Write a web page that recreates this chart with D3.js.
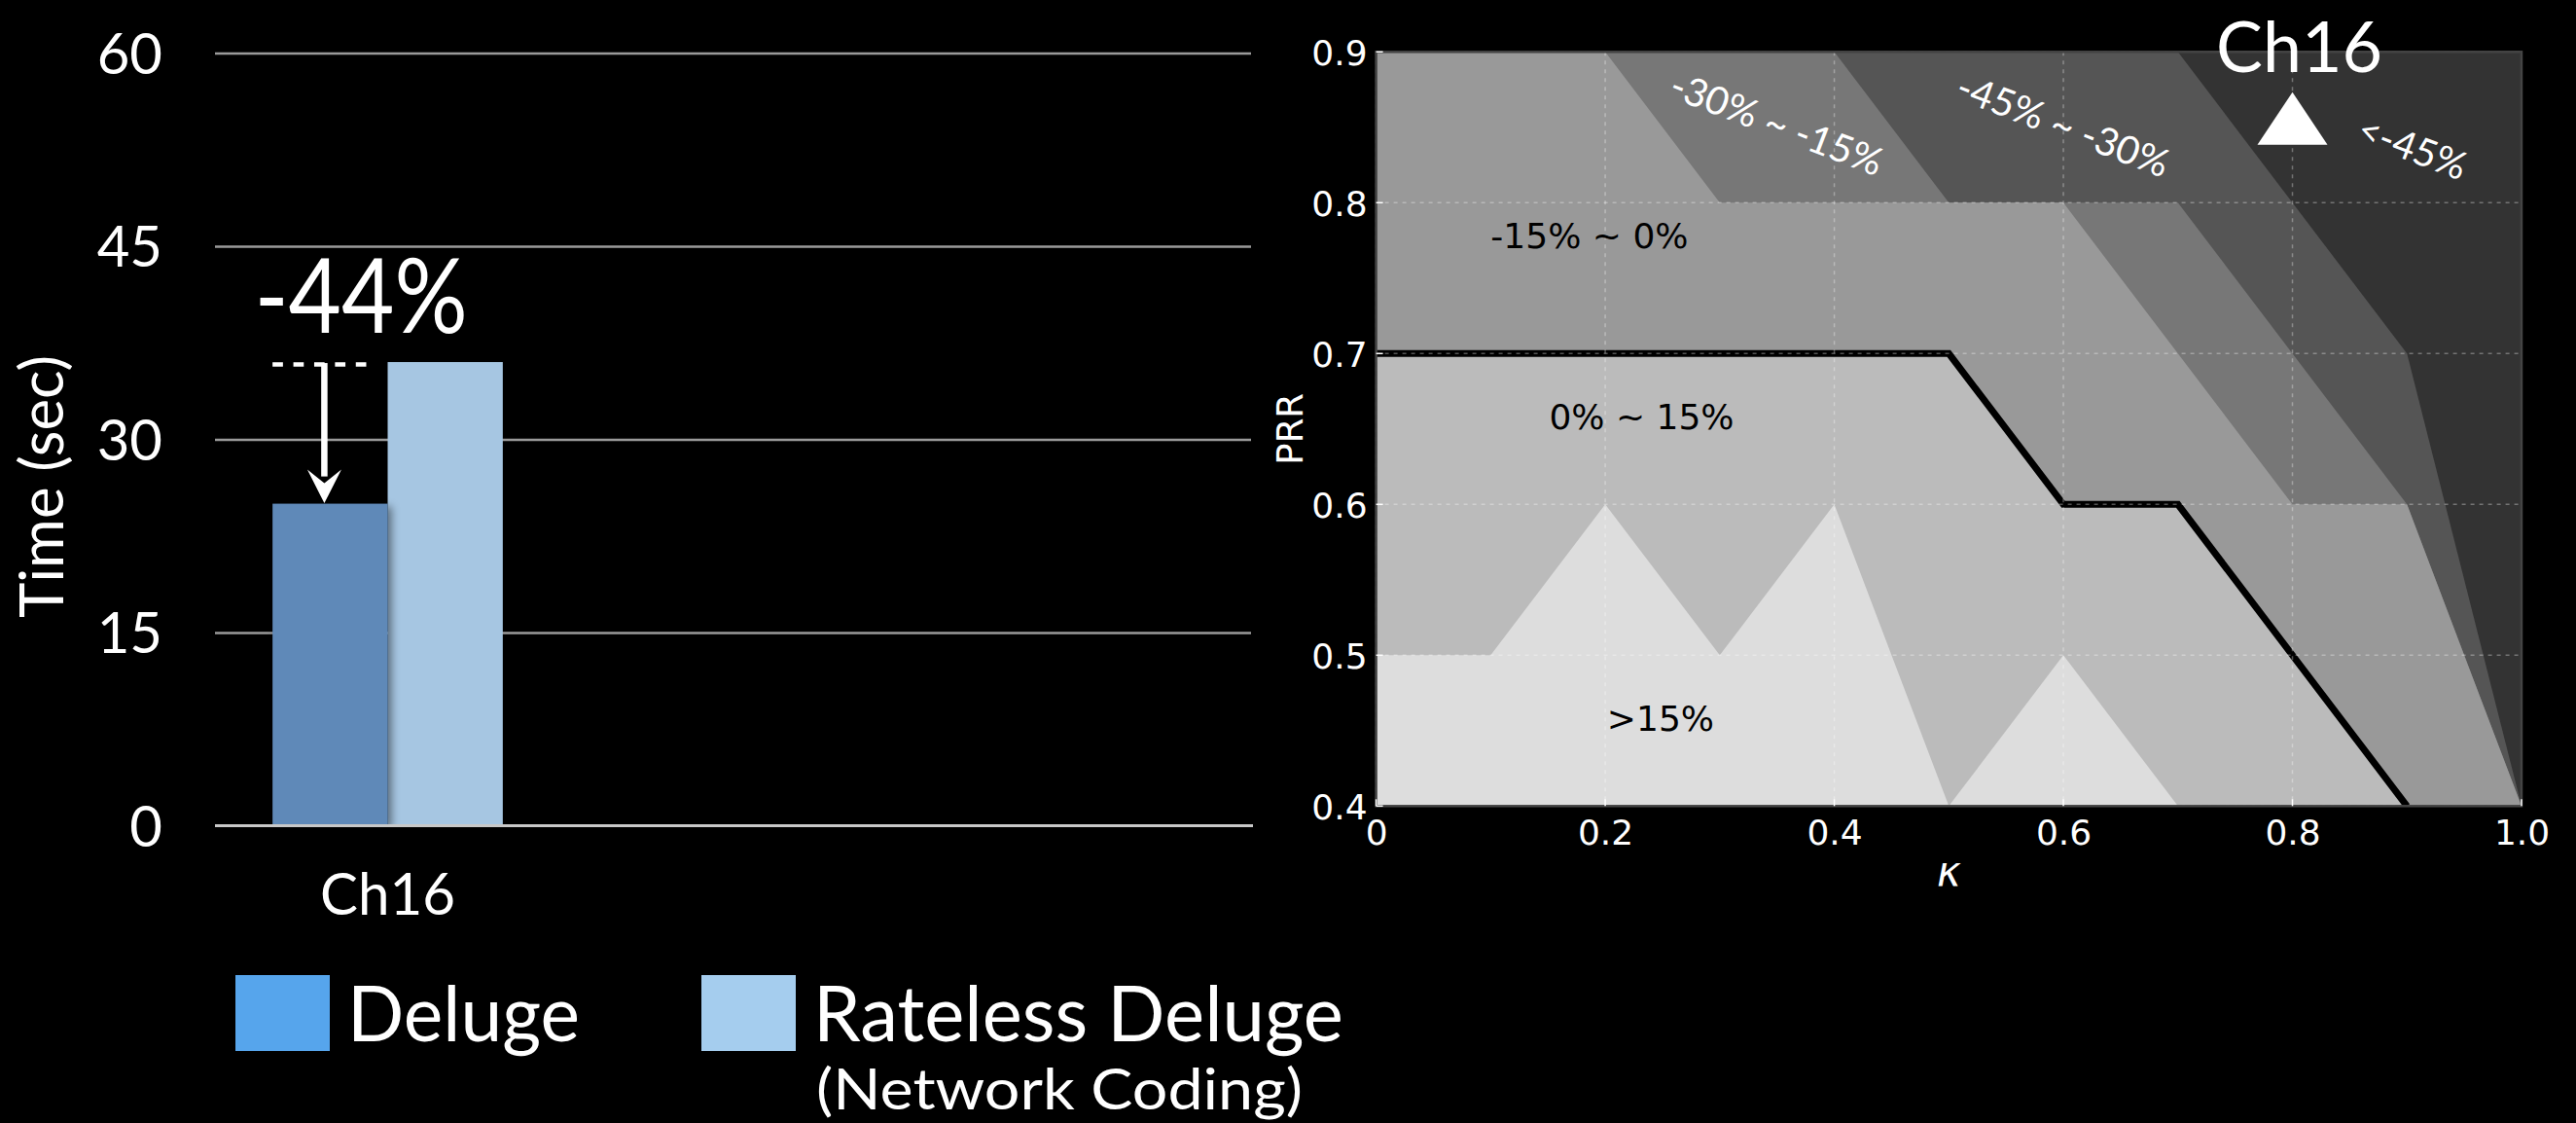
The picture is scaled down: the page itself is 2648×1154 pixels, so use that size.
<!DOCTYPE html>
<html>
<head>
<meta charset="utf-8">
<script src="https://cdn.jsdelivr.net/npm/d3@7"></script>
<style>
  html, body { margin: 0; padding: 0; background: #000; }
  svg { display: block; }
</style>
</head>
<body>
<svg id="chart" width="2648" height="1154"></svg>
<script>
// ---------------- completion time (bar chart) ----------------
const categories = ["Ch16"];
const seriesNames = ["Deluge", "Rateless Deluge"];
const seriesNotes = ["", "(Network Coding)"];
const timeValues = [[25, 36]];            // seconds, per category: Deluge, Rateless Deluge
const timeTicks = [0, 15, 30, 45, 60];

// ---------------- improvement map over (kappa, PRR) ----------------
const kappaTicks = [0, 0.2, 0.4, 0.6, 0.8, 1.0];
const prrTicks = [0.4, 0.5, 0.6, 0.7, 0.8, 0.9];
const bandNames = ["<-45%", "-45% ~ -30%", "-30% ~ -15%", "-15% ~ 0%", "0% ~ 15%", ">15%"];
// Outline of each band together with every lighter band, darkest first (kappa, PRR).
const bandOutlines = [
  [[[0, 0.4], [0, 0.9], [1.0, 0.9], [1.0, 0.4]]],
  [[[0, 0.4], [0, 0.9], [0.7, 0.9], [0.9, 0.7], [1.0, 0.4]]],
  [[[0, 0.4], [0, 0.9], [0.4, 0.9], [0.5, 0.8], [0.7, 0.8], [0.9, 0.6], [1.0, 0.4]]],
  [[[0, 0.4], [0, 0.9], [0.2, 0.9], [0.3, 0.8], [0.6, 0.8], [0.8, 0.6], [0.9, 0.6], [1.0, 0.4]]],
  [[[0, 0.4], [0, 0.7], [0.5, 0.7], [0.6, 0.6], [0.7, 0.6], [0.9, 0.4]]],
  [[[0, 0.4], [0, 0.5], [0.1, 0.5], [0.2, 0.6], [0.3, 0.5], [0.4, 0.6], [0.5, 0.4]],
   [[0.5, 0.4], [0.6, 0.5], [0.7, 0.4]]]
];
// Break-even (0%) contour
const zeroContour = [[0, 0.7], [0.5, 0.7], [0.6, 0.6], [0.7, 0.6], [0.9, 0.4]];
// Operating point of the Ch16 experiment
const channelPoint = { name: "Ch16", kappa: 0.8, prr: 0.85 };

// ---------------- styles ----------------
const barColors = ["#5e89b8", "#a6c6e2"];
const legendColors = ["#56a5ec", "#a5cdee"];
const bandGrays = ["#333333", "#555555", "#777777", "#999999", "#bbbbbb", "#dddddd"];
const gillLike = "Lato, 'Open Sans', sans-serif";
const mplFont = "'DejaVu Sans', sans-serif";

const svg = d3.select("#chart");
const defs = svg.append("defs");
defs.append("filter").attr("id", "barShadow")
  .attr("x", "-20%").attr("y", "-20%").attr("width", "150%").attr("height", "150%")
  .append("feDropShadow")
  .attr("dx", 4).attr("dy", 3).attr("stdDeviation", 4)
  .attr("flood-color", "#000").attr("flood-opacity", 0.45);

// ================= left panel =================
const L = { left: 221, right: 1286, top: 54.5, bottom: 848.4 };
const categorySlots = 3;
const yTime = d3.scaleLinear().domain([0, 60]).range([L.bottom, L.top]);
const x0 = d3.scaleBand().domain(d3.range(categorySlots)).range([L.left, L.right]);
const x1 = d3.scaleBand().domain(seriesNames).range([0, x0.bandwidth()]).paddingOuter(0.5);

// horizontal grid (baseline drawn later, above the bars)
const gridL = svg.append("g")
  .attr("transform", `translate(${L.left},0)`)
  .call(d3.axisLeft(yTime).tickValues(timeTicks.filter(t => t !== 0))
    .tickSize(-(L.right - L.left)).tickFormat(""));
gridL.select(".domain").remove();
gridL.selectAll(".tick line").attr("stroke", "#9a9a9a").attr("stroke-width", 2.5);

// tick labels
const axL = svg.append("g")
  .attr("transform", `translate(${L.left},0)`)
  .call(d3.axisLeft(yTime).tickValues(timeTicks).tickSize(0).tickPadding(54));
axL.select(".domain").remove();
axL.selectAll("text")
  .attr("fill", "#fff")
  .attr("dy", "0.36em")
  .style("font-family", gillLike).style("font-size", "58px");

// y title
svg.append("text")
  .attr("transform", "translate(65,500) rotate(-90)")
  .attr("text-anchor", "middle")
  .attr("fill", "#fff")
  .style("font-family", gillLike).style("font-size", "62px")
  .attr("textLength", 270).attr("lengthAdjust", "spacingAndGlyphs")
  .text("Time (sec)");

// bars
categories.forEach((cat, i) => {
  const g = svg.append("g").attr("transform", `translate(${x0(i)},0)`);
  const vals = seriesNames.map((s, j) => ({ s, j, v: timeValues[i][j] }));
  g.selectAll("rect")
    .data(vals.slice().reverse())
    .join("rect")
    .attr("x", d => x1(d.s))
    .attr("width", x1.bandwidth())
    .attr("y", d => yTime(d.v))
    .attr("height", d => yTime(0) - yTime(d.v))
    .attr("fill", d => barColors[d.j])
    .attr("filter", d => d.j === 0 ? "url(#barShadow)" : null);

  // category label
  g.append("text")
    .attr("x", x0.bandwidth() / 2).attr("y", 940)
    .attr("text-anchor", "middle").attr("fill", "#fff")
    .style("font-family", gillLike).style("font-size", "60px")
    .attr("textLength", 139).attr("lengthAdjust", "spacingAndGlyphs")
    .text(cat);

  // reduction annotation: Deluge vs. Rateless Deluge
  const base = vals[0], other = vals[1];
  const bx = x1(base.s), bw = x1.bandwidth();
  const ax = bx + bw * 0.45;
  const yFrom = yTime(other.v), yTo = yTime(base.v);
  const pct = Math.round((base.v - other.v) / base.v * 100);

  g.append("line")
    .attr("x1", bx).attr("x2", bx + bw * 0.815)
    .attr("y1", yFrom + 2.5).attr("y2", yFrom + 2.5)
    .attr("stroke", "#fff").attr("stroke-width", 4.5)
    .attr("stroke-dasharray", "10.7 10.7");
  g.append("line")
    .attr("x1", ax).attr("x2", ax)
    .attr("y1", yFrom + 1).attr("y2", yTo - 28)
    .attr("stroke", "#fff").attr("stroke-width", 6.5);
  const head = d3.path();
  head.moveTo(ax, yTo - 0.5);
  head.lineTo(ax - 17.5, yTo - 35);
  head.lineTo(ax, yTo - 21);
  head.lineTo(ax + 17.5, yTo - 35);
  head.closePath();
  g.append("path").attr("d", head.toString()).attr("fill", "#fff");

  g.append("text")
    .attr("x", bx - 18.5).attr("y", yFrom - 30)
    .attr("fill", "#fff")
    .style("font-family", gillLike).style("font-size", "107px")
    .attr("textLength", 219).attr("lengthAdjust", "spacingAndGlyphs")
    .text(`${pct < 0 ? "-" : "+"}${Math.abs(pct)}%`);
});

// baseline
svg.append("line")
  .attr("x1", L.left).attr("x2", L.right + 2)
  .attr("y1", yTime(0)).attr("y2", yTime(0))
  .attr("stroke", "#c8c8c8").attr("stroke-width", 3);

// legend
const legendX = [242, 721];
seriesNames.forEach((name, j) => {
  const lx = legendX[j];
  svg.append("rect")
    .attr("x", lx).attr("y", 1002).attr("width", 97).attr("height", 78)
    .attr("fill", legendColors[j]);
  svg.append("text")
    .attr("x", lx + 115).attr("y", 1070)
    .attr("fill", "#fff")
    .style("font-family", gillLike).style("font-size", "80px")
    .attr("textLength", j === 0 ? 239 : 545).attr("lengthAdjust", "spacingAndGlyphs")
    .text(name);
  if (seriesNotes[j]) {
    svg.append("text")
      .attr("x", lx + 118).attr("y", 1140)
      .attr("fill", "#fff")
      .style("font-family", gillLike).style("font-size", "58px")
      .attr("textLength", 500).attr("lengthAdjust", "spacingAndGlyphs")
      .text(seriesNotes[j]);
  }
});

// ================= right panel =================
const R = { left: 1414.6, right: 2592, top: 53.3, bottom: 828.3 };
const xK = d3.scaleLinear().domain([0, 1]).range([R.left, R.right]);
const yP = d3.scaleLinear().domain([0.4, 0.9]).range([R.bottom, R.top]);
const line = d3.line().x(d => xK(d[0])).y(d => yP(d[1]));

// filled bands
const bands = svg.append("g");
bandOutlines.forEach((polys, b) => {
  polys.forEach(poly => {
    bands.append("path")
      .attr("d", line(poly) + "Z")
      .attr("fill", bandGrays[b]);
  });
});

// 0% contour
svg.append("path")
  .attr("d", line(zeroContour))
  .attr("fill", "none").attr("stroke", "#000")
  .attr("stroke-width", 7).attr("stroke-linejoin", "miter");

// dashed grid
const gridR = svg.append("g");
gridR.selectAll(".gx").data(kappaTicks).join("line")
  .attr("x1", d => xK(d)).attr("x2", d => xK(d))
  .attr("y1", R.top).attr("y2", R.bottom);
gridR.selectAll(".gy").data(prrTicks).join("line")
  .attr("y1", d => yP(d)).attr("y2", d => yP(d))
  .attr("x1", R.left).attr("x2", R.right);
gridR.selectAll("line")
  .attr("stroke", "rgba(255,255,255,0.32)").attr("stroke-width", 1.5)
  .attr("stroke-dasharray", "4 5");

// frame
svg.append("rect")
  .attr("x", R.left).attr("y", R.top)
  .attr("width", R.right - R.left).attr("height", R.bottom - R.top)
  .attr("fill", "none").attr("stroke", "#444").attr("stroke-width", 2.5);

// inward tick marks
svg.append("g").selectAll("line").data(kappaTicks).join("line")
  .attr("x1", d => xK(d)).attr("x2", d => xK(d))
  .attr("y1", R.bottom).attr("y2", R.bottom - 7)
  .attr("stroke", "#fff").attr("stroke-width", 1.5);
svg.append("g").selectAll("line").data(prrTicks).join("line")
  .attr("y1", d => yP(d)).attr("y2", d => yP(d))
  .attr("x1", R.left).attr("x2", R.left + 7)
  .attr("stroke", "#fff").attr("stroke-width", 1.5);

// axes labels
const axB = svg.append("g")
  .attr("transform", `translate(0,${R.bottom})`)
  .call(d3.axisBottom(xK).tickValues(kappaTicks).tickSize(0).tickPadding(14)
    .tickFormat(d => d === 0 ? "0" : d3.format(".1f")(d)));
axB.select(".domain").remove();
axB.selectAll("text").attr("fill", "#fff")
  .style("font-family", mplFont).style("font-size", "36px");

const axP = svg.append("g")
  .attr("transform", `translate(${R.left},0)`)
  .call(d3.axisLeft(yP).tickValues(prrTicks).tickSize(0).tickPadding(9)
    .tickFormat(d3.format(".1f")));
axP.select(".domain").remove();
axP.selectAll("text").attr("fill", "#fff")
  .attr("dy", "0.36em")
  .style("font-family", mplFont).style("font-size", "36px");

svg.append("text")
  .attr("x", (R.left + R.right) / 2).attr("y", 910)
  .attr("text-anchor", "middle").attr("fill", "#fff")
  .style("font-family", mplFont).style("font-style", "italic").style("font-size", "42px")
  .text("κ");

svg.append("text")
  .attr("transform", `translate(1339,${(R.top + R.bottom) / 2}) rotate(-90)`)
  .attr("text-anchor", "middle").attr("fill", "#fff")
  .style("font-family", mplFont).style("font-size", "37px")
  .text("PRR");

// band labels: [kappa, PRR] anchors
const darkLabels = [
  { band: 3, at: [0.1, 0.77] },
  { band: 4, at: [0.151, 0.65] },
  { band: 5, at: [0.2015, 0.45] }
];
svg.append("g").selectAll("text").data(darkLabels).join("text")
  .attr("x", d => xK(d.at[0])).attr("y", d => yP(d.at[1]))
  .attr("fill", "#000")
  .style("font-family", mplFont).style("font-size", "36px")
  .text(d => bandNames[d.band]);

const lightLabels = [
  { band: 2, at: [0.35, 0.853] },
  { band: 1, at: [0.60, 0.852] },
  { band: 0, at: [0.905, 0.837] }
];
svg.append("g").selectAll("text").data(lightLabels).join("text")
  .attr("transform", d => `translate(${xK(d.at[0])},${yP(d.at[1])}) rotate(21)`)
  .attr("text-anchor", "middle").attr("dominant-baseline", "central")
  .attr("fill", "#fff")
  .style("font-family", gillLike).style("font-size", "40px")
  .text(d => bandNames[d.band]);

// operating point marker and its name
const px = xK(channelPoint.kappa), py = yP(channelPoint.prr);
const tri = d3.path();
tri.moveTo(px, py - 36);
tri.lineTo(px - 36, py + 18);
tri.lineTo(px + 36, py + 18);
tri.closePath();
svg.append("path").attr("d", tri.toString()).attr("fill", "#fff");

svg.append("text")
  .attr("x", px + 7).attr("y", 74)
  .attr("text-anchor", "middle").attr("fill", "#fff")
  .style("font-family", gillLike).style("font-size", "72px")
  .attr("textLength", 171).attr("lengthAdjust", "spacingAndGlyphs")
  .text(channelPoint.name);
</script>
